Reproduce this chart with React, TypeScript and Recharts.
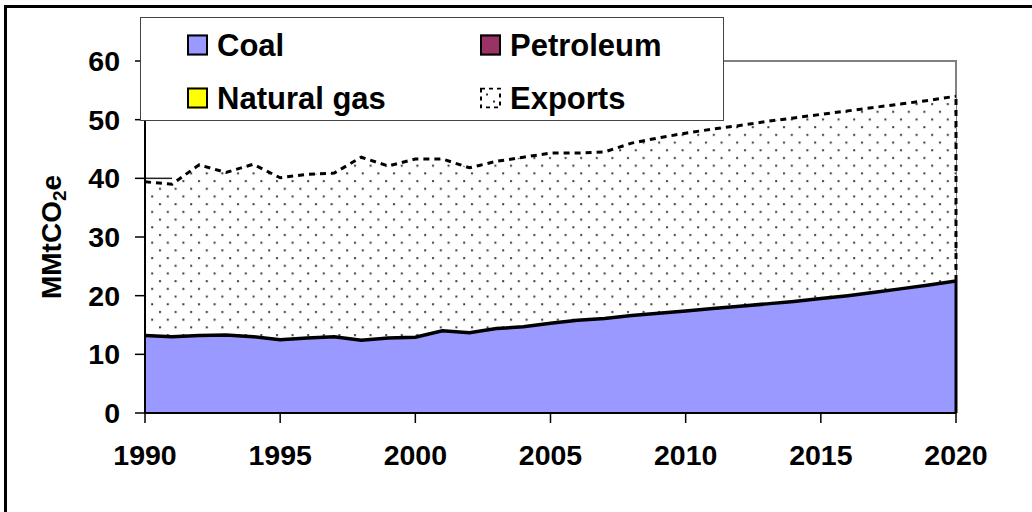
import React from "react";
import { ComposedChart, Area, Line, XAxis, YAxis, ReferenceLine, ReferenceArea, Label } from "recharts";

const years = [1990, 1991, 1992, 1993, 1994, 1995, 1996, 1997, 1998, 1999, 2000, 2001, 2002, 2003, 2004, 2005, 2006, 2007, 2008, 2009, 2010, 2011, 2012, 2013, 2014, 2015, 2016, 2017, 2018, 2019, 2020];
const coal = [13.2, 13.0, 13.2, 13.3, 13.0, 12.5, 12.8, 13.0, 12.4, 12.8, 12.9, 14.0, 13.7, 14.4, 14.7, 15.3, 15.8, 16.1, 16.6, 17.0, 17.4, 17.8, 18.2, 18.6, 19.0, 19.5, 20.0, 20.6, 21.2, 21.8, 22.5];
const petroleum = [0, 0, 0, 0, 0, 0, 0, 0, 0, 0, 0, 0, 0, 0, 0, 0, 0, 0, 0, 0, 0, 0, 0, 0, 0, 0, 0, 0, 0, 0, 0];
const naturalGas = [0, 0, 0, 0, 0, 0, 0, 0, 0, 0, 0, 0, 0, 0, 0, 0, 0, 0, 0, 0, 0, 0, 0, 0, 0, 0, 0, 0, 0, 0, 0];
const exportsVals = [26.2, 26.0, 29.1, 27.7, 29.4, 27.6, 27.9, 27.9, 31.2, 29.3, 30.4, 29.3, 28.1, 28.5, 28.9, 29.0, 28.5, 28.4, 29.4, 29.9, 30.3, 30.6, 30.8, 31.1, 31.3, 31.4, 31.5, 31.5, 31.5, 31.5, 31.5];
const yTicks = [0, 10, 20, 30, 40, 50, 60];
const xTicks = [1990, 1995, 2000, 2005, 2010, 2015, 2020];

const legendItems = [
  { name: "Coal", color: "#9999FF" },
  { name: "Petroleum", color: "#993366" },
  { name: "Natural gas", color: "#FFFF00" },
  { name: "Exports", color: "pattern" },
];

const data = years.map((year, i) => ({
  year,
  coal: coal[i],
  petroleum: petroleum[i],
  naturalGas: naturalGas[i],
  exports: exportsVals[i],
}));

const FONT = "'Liberation Sans', Arial, Helvetica, sans-serif";
const last = years.length - 1;

const tickStyle = { fontFamily: FONT, fontSize: 28.5, fontWeight: 700, fill: "#000" };

function YLabel() {
  const cx = 51;
  const cy = 237;
  return (
    <text
      x={cx}
      y={cy}
      transform={`rotate(-90, ${cx}, ${cy})`}
      textAnchor="middle"
      dominantBaseline="central"
      style={{ fontFamily: FONT, fontSize: 28, fontWeight: 700, fill: "#000" }}
    >
      <tspan>MMtCO</tspan>
      <tspan fontSize={19} dy={8}>2</tspan>
      <tspan dy={-8}>e</tspan>
    </text>
  );
}

function LegendBox() {
  const pos = [
    { left: 46, top: 27 },
    { left: 339, top: 27 },
    { left: 46, top: 80 },
    { left: 339, top: 80 },
  ];
  return (
    <div
      style={{
        position: "absolute",
        left: 140,
        top: 17,
        width: 584,
        height: 104,
        boxSizing: "border-box",
        border: "1.5px solid #444",
        background: "#fff",
        zIndex: 2,
      }}
    >
      {legendItems.map((it, i) => (
        <div
          key={it.name}
          style={{
            position: "absolute",
            left: pos[i].left,
            top: pos[i].top,
            transform: "translateY(-50%)",
            display: "flex",
            alignItems: "center",
            whiteSpace: "nowrap",
          }}
        >
          {it.color === "pattern" ? (
            <svg width={21} height={21} style={{ display: "block" }}>
              <rect x={1} y={1} width={19} height={19} fill="#fff" stroke="#000" strokeWidth={2} strokeDasharray="4 4" />
              <rect x={6} y={6} width={2} height={2} fill="#333" />
              <rect x={13} y={13} width={2} height={2} fill="#333" />
            </svg>
          ) : (
            <div
              style={{
                width: 21,
                height: 21,
                boxSizing: "border-box",
                border: "2px solid #000",
                background: it.color,
              }}
            />
          )}
          <span
            style={{
              marginLeft: 9,
              fontFamily: FONT,
              fontSize: 31,
              fontWeight: 700,
              color: "#000",
              lineHeight: "31px",
            }}
          >
            {it.name}
          </span>
        </div>
      ))}
    </div>
  );
}

export default function App() {
  return (
    <div
      style={{
        position: "absolute",
        left: 0,
        top: 0,
        width: 1032,
        height: 512,
        overflow: "hidden",
        background: "#fff",
      }}
    >
      <div
        style={{
          position: "absolute",
          left: 4,
          top: 5,
          width: 1060,
          height: 540,
          border: "3px solid #000",
          boxSizing: "border-box",
        }}
      />
      <div style={{ position: "absolute", left: 0, top: 0 }}>
        <ComposedChart width={1032} height={512} data={data} margin={{ top: 61, right: 76, bottom: 39, left: 65 }}>
          <defs>
            <pattern id="dots" x="0" y="0" width="15.6" height="15.4" patternUnits="userSpaceOnUse">
              <rect width="15.6" height="15.4" fill="#fff" />
              <rect x="3" y="3" width="2" height="2" fill="#3a3a3a" />
              <rect x="10.8" y="10.7" width="2" height="2" fill="#3a3a3a" />
            </pattern>
          </defs>
          <ReferenceArea
            x1={1990}
            x2={2020}
            y1={0}
            y2={60}
            fill="#fff"
            fillOpacity={1}
            stroke="#808080"
            strokeWidth={2}
          />
          <XAxis
            dataKey="year"
            type="number"
            domain={[1990, 2020]}
            ticks={xTicks}
            tickSize={10}
            tickMargin={22}
            height={60}
            axisLine={{ stroke: "#000", strokeWidth: 2 }}
            tickLine={{ stroke: "#000", strokeWidth: 1.5 }}
            tick={tickStyle}
            allowDataOverflow
          />
          <YAxis
            type="number"
            domain={[0, 60]}
            ticks={yTicks}
            tickSize={10}
            tickMargin={15}
            width={80}
            axisLine={{ stroke: "#000", strokeWidth: 2 }}
            tickLine={{ stroke: "#000", strokeWidth: 1.5 }}
            tick={tickStyle}
            allowDataOverflow
          >
            <Label content={() => <YLabel />} />
          </YAxis>
          <Area
            type="linear"
            dataKey="coal"
            name="Coal"
            stackId="s"
            fill="#9999FF"
            fillOpacity={1}
            stroke="none"
            isAnimationActive={false}
            dot={false}
            activeDot={false}
          />
          <Area
            type="linear"
            dataKey="petroleum"
            name="Petroleum"
            stackId="s"
            fill="#993366"
            fillOpacity={1}
            stroke="none"
            isAnimationActive={false}
            dot={false}
            activeDot={false}
          />
          <Area
            type="linear"
            dataKey="naturalGas"
            name="Natural gas"
            stackId="s"
            fill="#FFFF00"
            fillOpacity={1}
            stroke="none"
            isAnimationActive={false}
            dot={false}
            activeDot={false}
          />
          <Area
            type="linear"
            dataKey="exports"
            name="Exports"
            stackId="s"
            fill="url(#dots)"
            fillOpacity={1}
            stroke="#000"
            strokeWidth={3}
            strokeDasharray="6 5"
            isAnimationActive={false}
            dot={false}
            activeDot={false}
          />
          <Line
            type="linear"
            dataKey="coal"
            legendType="none"
            stroke="#000"
            strokeWidth={3.5}
            isAnimationActive={false}
            dot={false}
            activeDot={false}
          />
          <ReferenceLine
            segment={[{ x: years[last], y: 0 }, { x: years[last], y: coal[last] }]}
            stroke="#000"
            strokeWidth={3}
          />
          <ReferenceLine
            segment={[
              { x: years[last], y: coal[last] },
              { x: years[last], y: coal[last] + exportsVals[last] },
            ]}
            stroke="#000"
            strokeWidth={3}
            strokeDasharray="6 5"
          />
          <ReferenceLine
            segment={[{ x: years[0], y: yTicks[4] }, { x: years[1], y: yTicks[4] }]}
            stroke="#222"
            strokeWidth={1.5}
          />
        </ComposedChart>
      </div>
      <LegendBox />
    </div>
  );
}
